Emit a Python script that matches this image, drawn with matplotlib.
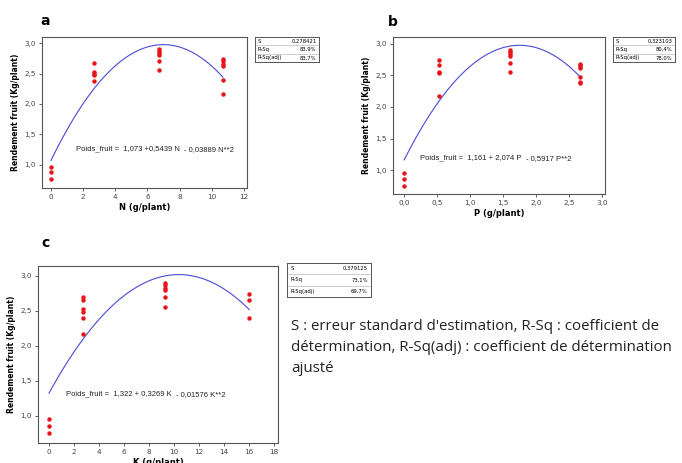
import numpy as np
import matplotlib
matplotlib.use("Agg")
import matplotlib.pyplot as plt

# scatter data
n_x = [0, 0, 0, 2.7, 2.7, 2.7, 2.7, 2.7, 6.7, 6.7, 6.7, 6.7, 6.7, 6.7,
       10.7, 10.7, 10.7, 10.7, 10.7, 10.7]
n_y = [0.96, 0.88, 0.76, 2.67, 2.53, 2.50, 2.47, 2.38, 2.90, 2.87, 2.84, 2.81, 2.70, 2.56,
       2.74, 2.70, 2.66, 2.63, 2.39, 2.17]

p_x = [0, 0, 0, 0.53, 0.53, 0.53, 0.53, 0.53, 1.6, 1.6, 1.6, 1.6, 1.6, 1.6,
       2.67, 2.67, 2.67, 2.67, 2.67, 2.67, 2.67]
p_y = [0.95, 0.86, 0.75, 2.74, 2.66, 2.55, 2.54, 2.17, 2.90, 2.88, 2.84, 2.81, 2.70, 2.55,
       2.68, 2.66, 2.64, 2.62, 2.48, 2.40, 2.38]

k_x = [0, 0, 0, 2.7, 2.7, 2.7, 2.7, 2.7, 2.7, 9.3, 9.3, 9.3, 9.3, 9.3, 9.3, 16, 16, 16]
k_y = [0.96, 0.86, 0.75, 2.69, 2.65, 2.53, 2.48, 2.39, 2.17, 2.90, 2.87, 2.83, 2.80, 2.69, 2.55,
       2.74, 2.66, 2.40]

# fitted quadratic coefficients (as printed on the chart)
n_coef = [1.073, 0.5439, -0.03889]
p_coef = [1.161, 2.074, -0.5917]
k_coef = [1.322, 0.3269, -0.01576]

n_stats = ["0,278421", "83,9%", "83,7%"]
p_stats = ["0,323103", "80,4%", "78,0%"]
k_stats = ["0,379125", "73,1%", "69,7%"]

W, H = 682, 463
fig = plt.figure(figsize=(W / 100, H / 100), dpi=100)
plt.rcParams['font.family'] = ['DejaVu Sans']


def px_axes(x0, y0, x1, y1):
    return fig.add_axes([x0 / W, 1 - y1 / H, (x1 - x0) / W, (y1 - y0) / H])


def comma(v, dec):
    return f"{v:.{dec}f}".replace(".", ",")


def panel(box, xs, ys, coef, xlim, ylim, xticks, xdec, xlabel, eq1, eq2, pos1):
    ax = px_axes(*box)
    xx = np.linspace(0, max(xs), 60)
    yy = coef[0] + coef[1] * xx + coef[2] * xx ** 2
    ax.plot(xx, yy, color="#4a4ad8", lw=0.8)
    ax.plot(xs, ys, "o", color="#e8141a", ms=3.2, mec="none")
    ax.set_xlim(*xlim)
    ax.set_ylim(*ylim)
    ax.set_xticks(xticks)
    ax.set_xticklabels([comma(t, xdec) for t in xticks])
    yt = [1.0, 1.5, 2.0, 2.5, 3.0]
    ax.set_yticks(yt)
    ax.set_yticklabels([comma(t, 1) for t in yt])
    ax.tick_params(labelsize=5.2, length=2.5, width=0.6, colors="#444444", pad=2)
    for s in ax.spines.values():
        s.set_color("#555555")
        s.set_linewidth(0.8)
    ax.set_xlabel(xlabel, fontsize=6, fontweight="bold", labelpad=2)
    ax.set_ylabel("Rendement fruit (Kg/plant)", fontsize=5.5, fontweight="bold", labelpad=3)
    t1 = ax.text(pos1[0], pos1[1], eq1, fontsize=5.5, color="#222222",
                 family="Liberation Sans")
    ax.annotate(eq2, xy=(1, 0), xycoords=t1, xytext=(3, 1.2), textcoords="offset points",
                fontsize=5.5, color="#222222", family="Liberation Sans")
    return ax


def stats_box(box, vals):
    ax = px_axes(*box)
    ax.set_xticks([])
    ax.set_yticks([])
    for s in ax.spines.values():
        s.set_color("#555555")
        s.set_linewidth(0.7)
    names = ["S", "R-Sq", "R-Sq(adj)"]
    for i, (nm, v) in enumerate(zip(names, vals)):
        y = 1 - (i + 0.5) / 3
        ax.text(0.04, y, nm, fontsize=3.8, va="center", transform=ax.transAxes)
        ax.text(0.96, y, v, fontsize=3.8, va="center", ha="right", transform=ax.transAxes)
        if i > 0:
            ax.axhline(1 - i / 3, color="#aaaaaa", lw=0.4)


panel((42, 37, 247, 188), n_x, n_y, n_coef, (-0.56, 12.2), (0.62, 3.10),
      [0, 2, 4, 6, 8, 10, 12], 0, "N (g/plant)",
      "Poids_fruit =  1,073 +0,5439 N", "- 0,03889 N**2", (1.55, 1.24))
stats_box((255, 37, 319, 62), n_stats)
fig.text(45 / W, 1 - 21 / H, "a", fontsize=10, fontweight="bold", ha="center", va="center")

panel((393, 37, 605, 194), p_x, p_y, p_coef, (-0.17, 3.05), (0.62, 3.11),
      [0.0, 0.5, 1.0, 1.5, 2.0, 2.5, 3.0], 1, "P (g/plant)",
      "Poids_fruit =  1,161 + 2,074 P", "- 0,5917 P**2", (0.24, 1.17))
stats_box((613, 37, 675, 62), p_stats)
fig.text(393 / W, 1 - 22 / H, "b", fontsize=10, fontweight="bold", ha="center", va="center")

panel((38, 266, 278, 443), k_x, k_y, k_coef, (-0.88, 18.3), (0.61, 3.14),
      [0, 2, 4, 6, 8, 10, 12, 14, 16, 18], 0, "K (g/plant)",
      "Poids_fruit =  1,322 + 0,3269 K", "- 0,01576 K**2", (1.36, 1.29))
stats_box((287, 263, 371, 297), k_stats)
fig.text(45 / W, 1 - 243 / H, "c", fontsize=10, fontweight="bold", ha="center", va="center")

lines = ["S : erreur standard d'estimation, R-Sq : coefficient de",
         "détermination, R-Sq(adj) : coefficient de détermination",
         "ajusté"]
for i, ln in enumerate(lines):
    fig.text(291 / W, 1 - (326 + i * 21.5) / H, ln, fontsize=10.8, va="center",
             family="Open Sans", color="#222222")

fig.savefig("out.png", dpi=100)
